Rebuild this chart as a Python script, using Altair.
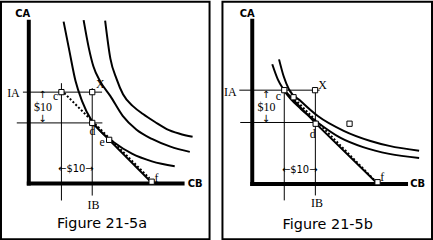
import altair as alt
import pandas as pd

# ======================= Figure 21-5a (left panel), units: dollars =======================
a_ic1_x = [11.3, 13.2, 15.2, 17.3, 20.5, 23.5, 27.5, 33.5, 40.0, 47.4]
a_ic1_y = [52.6, 43.0, 33.2, 26.8, 20.3, 16.8, 13.5, 9.7, 7.2, 5.6]
a_ic2_x = [17.8, 19.5, 21.0, 23.2, 26.5, 30.5, 35.0, 40.0, 46.0, 52.3]
a_ic2_y = [53.1, 44.0, 38.0, 33.2, 28.4, 22.0, 17.5, 14.5, 12.0, 10.3]
a_ic3_x = [24.8, 26.5, 28.5, 30.6, 34.0, 37.1, 41.0, 44.8, 49.0, 53.2]
a_ic3_y = [52.9, 40.6, 34.0, 29.0, 25.0, 22.6, 20.0, 17.7, 16.2, 15.2]
a_budget_x = [20.6, 40.2]
a_budget_y = [19.7, 0.0]
a_dotted_x = [11.5, 39.2]
a_dotted_y = [29.4, 1.7]
a_box_x = [10.6, 20.6, 20.6, 26.1, 39.9]
a_box_y = [29.7, 29.7, 19.7, 14.2, 0.6]
a_guide_x = [-1.9, -3.9, 10.6, 20.6]
a_guide_x2 = [23.8, 23.9, 10.6, 20.6]
a_guide_y = [29.7, 19.7, 32.6, 31.0]
a_guide_y2 = [29.7, 19.7, -5.5, -3.9]
a_axis_x = [0.0, -0.65]
a_axis_x2 = [0.0, 50.6]
a_axis_y = [-0.65, 0.0]
a_axis_y2 = [53.2, 0.0]
a_name_text = ["CA", "CB"]
a_name_x = [-2.0, 54.0]
a_name_y = [55.2, -0.2]
a_serif_text = ["IA", "IB", "c", "X", "d", "e", "f", "$10"]
a_serif_x = [-5.0, 21.0, 8.7, 23.2, 20.7, 23.8, 41.5, 4.6]
a_serif_y = [29.5, -7.1, 28.4, 32.4, 17.1, 13.6, 1.8, 24.7]
a_arrow_text = ["↑", "↓", "←$10→"]
a_arrow_x = [4.4, 4.4, 15.3]
a_arrow_y = [28.7, 20.9, 4.8]
a_title = ["Figure 21-5a"]
a_title_x = [23.8]
a_title_y = [-13.1]

# ======================= Figure 21-5b (right panel), units: dollars =======================
b_ic1_x = [6.5, 8.3, 10.3, 15.8, 20.6, 28.7, 36.0, 44.5, 54.2]
b_ic1_y = [38.9, 34.0, 30.5, 24.4, 20.5, 15.0, 12.0, 9.8, 8.5]
b_ic2_x = [8.7, 10.2, 11.9, 15.8, 21.3, 29.7, 38.4, 44.5, 54.2]
b_ic2_y = [40.5, 35.0, 30.8, 26.9, 22.1, 17.3, 14.0, 12.4, 10.8]
b_budget_x = [10.4, 20.6, 40.3]
b_budget_y = [30.5, 19.7, 0.5]
b_dotted_x = [13.8, 39.5]
b_dotted_y = [27.6, 1.5]
b_box_x = [10.4, 13.4, 20.4, 20.6, 31.6, 40.7]
b_box_y = [30.5, 28.2, 30.5, 19.6, 19.6, 0.6]
b_guide_x = [-4.2, -3.9, 10.4, 20.5]
b_guide_x2 = [21.9, 21.0, 10.4, 20.5]
b_guide_y = [30.5, 20.0, 30.8, 30.8]
b_guide_y2 = [30.5, 20.0, -5.3, -3.7]
b_axis_x = [0.0, -0.65]
b_axis_x2 = [0.0, 50.6]
b_axis_y = [-0.65, 0.0]
b_axis_y2 = [53.7, 0.0]
b_name_text = ["CA", "CB"]
b_name_x = [-1.6, 53.7]
b_name_y = [55.3, 0.0]
b_serif_text = ["IA", "IB", "c", "X", "d", "f", "$10"]
b_serif_x = [-7.1, 21.0, 8.5, 22.8, 19.6, 42.2, 4.6]
b_serif_y = [29.9, -6.3, 28.5, 32.3, 16.4, 2.2, 25.0]
b_arrow_text = ["↑", "↓", "←$10→"]
b_arrow_x = [4.4, 4.4, 15.4]
b_arrow_y = [29.0, 21.2, 4.6]
b_title = ["Figure 21-5b"]
b_title_x = [24.5]
b_title_y = [-13.2]


def curves_df(*pairs):
    rows = []
    for cid, (xs, ys) in enumerate(pairs):
        for i, (x, y) in enumerate(zip(xs, ys)):
            rows.append({"id": cid, "o": i, "x": x, "y": y})
    return pd.DataFrame(rows)


def panel(xdom, ydom, w, h, curves, budget, dotted, boxes, guides, axes,
          names, serif, arrows, title):
    X = lambda f="x": alt.X(f"{f}:Q", scale=alt.Scale(domain=xdom, nice=False, zero=False), axis=None)
    Y = lambda f="y": alt.Y(f"{f}:Q", scale=alt.Scale(domain=ydom, nice=False, zero=False), axis=None)

    gdf = pd.DataFrame({"x": guides[0], "x2": guides[1], "y": guides[2], "y2": guides[3]})
    guide_layer = alt.Chart(gdf).mark_rule(color="black", strokeWidth=1).encode(
        x=X(), x2="x2:Q", y=Y(), y2="y2:Q")

    adf = pd.DataFrame({"x": axes[0], "x2": axes[1], "y": axes[2], "y2": axes[3]})
    axis_layer = alt.Chart(adf).mark_rule(color="black", strokeWidth=4).encode(
        x=X(), x2="x2:Q", y=Y(), y2="y2:Q")

    cdf = curves_df(*curves)
    curve_layer = alt.Chart(cdf).mark_line(color="black", strokeWidth=2, interpolate="monotone").encode(
        x=X(), y=Y(), detail="id:N", order="o:Q")

    bdf = curves_df(budget)
    budget_layer = alt.Chart(bdf).mark_line(color="black", strokeWidth=2).encode(
        x=X(), y=Y(), order="o:Q")

    ddf = curves_df(dotted)
    dotted_layer = alt.Chart(ddf).mark_line(color="black", strokeWidth=2, strokeDash=[2, 2]).encode(
        x=X(), y=Y(), order="o:Q")

    boxdf = pd.DataFrame({"x": boxes[0], "y": boxes[1]})
    box_layer = alt.Chart(boxdf).mark_square(size=28, filled=True, fill="white", stroke="black",
                                             strokeWidth=1, opacity=1).encode(x=X(), y=Y())

    ndf = pd.DataFrame({"t": names[0], "x": names[1], "y": names[2]})
    name_layer = alt.Chart(ndf).mark_text(font="DejaVu Sans", fontWeight="bold", fontSize=10,
                                          align="center", baseline="middle", color="black").encode(
        x=X(), y=Y(), text="t:N")

    sdf = pd.DataFrame({"t": serif[0], "x": serif[1], "y": serif[2]})
    serif_layer = alt.Chart(sdf).mark_text(font="Liberation Serif", fontSize=12,
                                           align="center", baseline="middle", color="black").encode(
        x=X(), y=Y(), text="t:N")

    rdf = pd.DataFrame({"t": arrows[0], "x": arrows[1], "y": arrows[2]})
    arrow_layer = alt.Chart(rdf).mark_text(font="DejaVu Sans", fontSize=10,
                                           align="center", baseline="middle", color="black").encode(
        x=X(), y=Y(), text="t:N")

    tdf = pd.DataFrame({"t": title[0], "x": title[1], "y": title[2]})
    title_layer = alt.Chart(tdf).mark_text(font="DejaVu Sans", fontSize=14.5,
                                           align="center", baseline="middle", color="black").encode(
        x=X(), y=Y(), text="t:N")

    return alt.layer(guide_layer, axis_layer, curve_layer, budget_layer, dotted_layer,
                     box_layer, name_layer, serif_layer, arrow_layer, title_layer).properties(
        width=w, height=h)


left = panel([-28 / 3.1, 182 / 3.1], [-56 / 3.1, 183 / 3.1], 210, 239,
             [(a_ic1_x, a_ic1_y), (a_ic2_x, a_ic2_y), (a_ic3_x, a_ic3_y)],
             (a_budget_x, a_budget_y), (a_dotted_x, a_dotted_y), (a_box_x, a_box_y),
             (a_guide_x, a_guide_x2, a_guide_y, a_guide_y2),
             (a_axis_x, a_axis_x2, a_axis_y, a_axis_y2),
             (a_name_text, a_name_x, a_name_y), (a_serif_text, a_serif_x, a_serif_y),
             (a_arrow_text, a_arrow_x, a_arrow_y), (a_title, a_title_x, a_title_y))

right = panel([-30 / 3.1, 181 / 3.1], [-55.5 / 3.1, 183.5 / 3.1], 211, 239,
              [(b_ic1_x, b_ic1_y), (b_ic2_x, b_ic2_y)],
              (b_budget_x, b_budget_y), (b_dotted_x, b_dotted_y), (b_box_x, b_box_y),
              (b_guide_x, b_guide_x2, b_guide_y, b_guide_y2),
              (b_axis_x, b_axis_x2, b_axis_y, b_axis_y2),
              (b_name_text, b_name_x, b_name_y), (b_serif_text, b_serif_x, b_serif_y),
              (b_arrow_text, b_arrow_x, b_arrow_y), (b_title, b_title_x, b_title_y))

chart = alt.hconcat(left, right, spacing=11).properties(
    padding=0, background="white"
).configure_view(stroke="black", strokeWidth=2)

chart.save("out.html", embed_options={"renderer": "svg", "actions": False})
